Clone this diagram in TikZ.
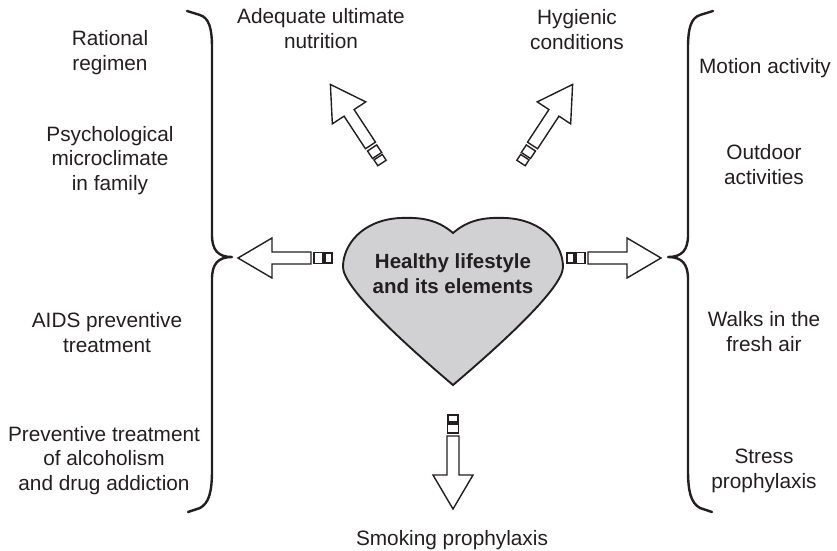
\documentclass[tikz,border=0pt]{standalone}
\usepackage{fontspec}
\setmainfont{Liberation Sans}
\definecolor{ink}{HTML}{231F20}
\definecolor{heartgray}{HTML}{D1D1D3}
\newcommand\hlArrow[3]{%
  \begin{scope}[shift={#2}, rotate=#3]
    \coordinate (#1-base) at (0,0);
    \draw[arr] (0,-5) rectangle (7,5);
    \draw[arr] (9,-5.5) rectangle (18,5.5);
    \draw[arr] (21,-6) -- (60,-6) -- (60,-20) -- (94,0) -- (60,20) -- (60,6) -- (21,6) -- cycle;
    \coordinate (#1-tip) at (94,0);
  \end{scope}}
\begin{document}
\begin{tikzpicture}[x=1pt,y=-1pt,
  lbl/.style={font=\fontsize{20.8}{24.5}\selectfont, text=ink, align=center, inner sep=0pt, anchor=base},
  title/.style={font=\fontsize{20.5}{25}\selectfont\bfseries, text=ink, align=center, inner sep=0pt, anchor=base},
  brace/.style={draw=ink, line width=2.4pt, line cap=round, line join=round},
  arr/.style={draw=ink, fill=white, line width=1.4pt, line join=miter},
  heartst/.style={draw=ink, fill=heartgray, line width=1.9pt, line join=miter}]
\useasboundingbox (0,0) rectangle (837,550);

% heart
\draw[heartst] (453,233) .. controls (438,220) and (422,217) .. (400,218)
  .. controls (362,220) and (343,245) .. (343,267)
  .. controls (343,287) and (400,340) .. (453,385)
  .. controls (506,340) and (563,287) .. (563,267)
  .. controls (563,245) and (544,220) .. (506,218)
  .. controls (484,217) and (468,220) .. (453,233) -- cycle;
\node[title] (titletext) at (453,293) {Healthy lifestyle\\and its elements};

% arrows
\hlArrow{aleft}{(332,258)}{180}
\hlArrow{aright}{(567,258)}{0}
\hlArrow{adown}{(453,415)}{-90}
\hlArrow{aul}{(382,163)}{123.3}
\hlArrow{aur}{(521,163)}{56.7}

% braces
\draw[brace] (187,11) -- (200,15) .. controls (209,18) and (212,28) .. (212,48)
  -- (212,235) .. controls (212,250) and (218,257) .. (232,257)
  .. controls (218,257) and (212,264) .. (212,279)
  -- (212,470) .. controls (212,492) and (209,503) .. (200,508) -- (188,512);
\draw[brace] (713,11) -- (700,15) .. controls (691,18) and (688,28) .. (688,48)
  -- (688,235) .. controls (688,250) and (682,257) .. (668,257)
  .. controls (682,257) and (688,264) .. (688,279)
  -- (688,470) .. controls (688,492) and (691,503) .. (700,508) -- (712,512);

% labels (anchor = baseline of last line)
\node[lbl] (rational) at (110,70) {Rational\\regimen};
\node[lbl] (psych) at (110,190) {Psychological\\microclimate\\in family};
\node[lbl] (aids) at (107,352) {AIDS preventive\\treatment};
\node[lbl] (alcohol) at (104,490) {Preventive treatment\\of alcoholism\\and drug addiction};
\node[lbl] (nutrition) at (321,48) {Adequate ultimate\\nutrition};
\node[lbl] (hygiene) at (577,49) {Hygienic\\conditions};
\node[lbl] (motion) at (765,73) {Motion activity};
\node[lbl] (outdoor) at (764,184) {Outdoor\\activities};
\node[lbl] (walks) at (764,351) {Walks in the\\fresh air};
\node[lbl] (stress) at (764,488) {Stress\\prophylaxis};
\node[lbl] (smoking) at (452,545) {Smoking prophylaxis};
\end{tikzpicture}
\end{document}
